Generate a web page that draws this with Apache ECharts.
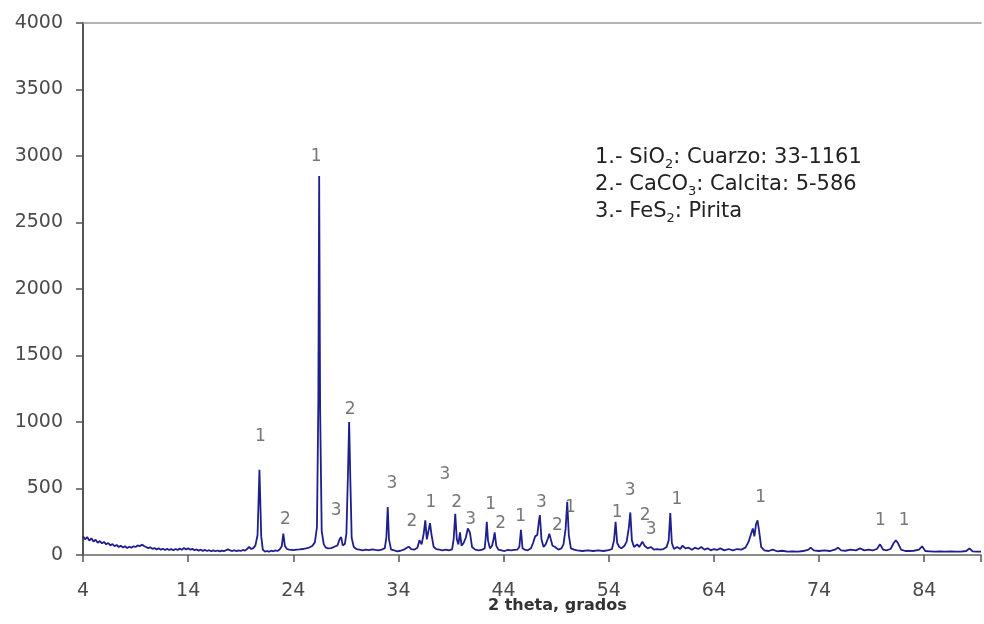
<!DOCTYPE html>
<html>
<head>
<meta charset="utf-8">
<script src="https://cdn.jsdelivr.net/npm/echarts@6/dist/echarts.min.js"></script>
<style>html,body{margin:0;padding:0;background:#fff}#c{width:984px;height:624px}</style>
</head>
<body>
<div id="c"></div>
<script>
const twoTheta = [
4.0,4.2,4.4,4.6,4.8,5.0,5.2,5.4,5.6,5.8,6.0,6.2,6.4,6.6,6.8,7.0,7.2,7.4,7.6,7.8,
8.0,8.2,8.4,8.6,8.8,9.0,9.2,9.4,9.6,9.8,10.0,10.2,10.4,10.6,10.8,11.0,11.2,11.4,11.6,11.8,
12.0,12.2,12.4,12.6,12.8,13.0,13.2,13.4,13.6,13.8,14.0,14.2,14.4,14.6,14.8,15.0,15.2,15.4,15.6,15.8,
16.0,16.2,16.4,16.6,16.8,17.0,17.2,17.4,17.6,17.8,18.0,18.2,18.4,18.6,18.8,19.0,19.2,19.4,19.6,19.8,
20.0,20.2,20.4,20.6,20.78,20.95,21.1,21.3,21.5,21.7,21.9,22.1,22.3,22.5,22.7,22.9,23.05,23.2,23.4,23.6,
23.8,24.0,24.3,24.6,24.9,25.2,25.5,25.8,26.05,26.25,26.38,26.46,26.55,26.7,26.9,27.1,27.3,27.6,27.9,28.2,
28.4,28.55,28.7,28.9,29.05,29.2,29.31,29.42,29.55,29.75,30.0,30.3,30.6,30.9,31.2,31.5,31.8,32.1,32.4,32.7,
32.85,32.98,33.1,33.3,33.6,33.9,34.2,34.5,34.8,35.0,35.2,35.5,35.8,36.0,36.2,36.4,36.55,36.7,36.85,37.0,
37.15,37.35,37.6,37.9,38.2,38.5,38.8,39.1,39.25,39.4,39.55,39.7,39.85,40.0,40.2,40.4,40.6,40.8,41.0,41.3,
41.6,41.9,42.2,42.3,42.4,42.52,42.7,42.9,43.05,43.15,43.3,43.5,43.8,44.1,44.4,44.7,45.0,45.3,45.5,45.65,
45.8,46.0,46.3,46.6,46.8,47.0,47.2,47.35,47.45,47.6,47.8,48.0,48.2,48.35,48.5,48.65,48.9,49.2,49.5,49.7,
49.9,50.05,50.2,50.4,50.7,51.0,51.5,52.0,52.5,53.0,53.5,54.0,54.3,54.5,54.65,54.8,55.0,55.2,55.5,55.7,
55.9,56.05,56.2,56.4,56.7,56.9,57.2,57.4,57.7,58.0,58.3,58.6,58.9,59.2,59.5,59.7,59.85,60.0,60.2,60.5,
60.8,61.0,61.3,61.6,61.9,62.2,62.5,62.8,63.1,63.4,63.7,64.0,64.3,64.6,65.0,65.4,65.8,66.2,66.6,67.0,
67.3,67.5,67.7,67.85,68.0,68.15,68.3,68.5,68.8,69.2,69.6,70.0,70.5,71.0,71.5,72.0,72.5,73.0,73.2,73.5,
74.0,74.5,75.0,75.5,75.8,76.1,76.5,77.0,77.5,77.9,78.3,78.7,79.1,79.5,79.8,80.1,80.4,80.8,81.1,81.3,
81.5,81.8,82.2,82.6,83.0,83.5,83.8,84.1,84.5,85.0,85.5,86.0,86.5,87.0,87.5,88.0,88.3,88.6,89.0,89.4
];
const counts = [
140,118,135,108,125,102,115,92,105,88,98,80,90,72,82,66,75,60,70,56,
66,52,62,55,66,60,72,66,78,68,60,52,58,46,52,42,50,40,47,38,
46,38,44,36,45,38,48,40,52,42,50,40,46,36,42,33,40,31,38,30,
36,28,35,28,34,27,33,29,36,42,34,30,36,28,35,30,38,33,45,60,
45,52,72,150,640,140,40,25,30,26,32,28,35,30,42,65,160,68,45,40,
38,36,40,42,45,50,56,68,95,210,1150,2850,1100,180,80,55,50,52,62,72,
118,135,72,82,160,620,1000,580,130,60,45,40,35,40,36,42,38,35,40,52,
130,360,118,40,34,28,32,40,55,62,45,40,55,110,80,160,260,118,180,240,
150,60,45,40,35,40,35,42,120,310,118,80,170,70,90,130,200,168,60,40,
35,38,50,130,250,108,50,70,120,170,70,40,35,30,38,35,38,40,62,190,
50,40,35,50,90,140,150,250,300,118,60,80,120,160,170,70,60,40,50,82,
200,400,150,50,40,35,30,35,30,34,30,36,45,110,250,90,60,50,70,100,
200,320,110,60,80,60,100,70,50,60,40,45,40,45,60,110,315,90,45,60,
45,70,50,55,40,55,45,60,40,50,35,45,38,50,35,45,35,45,40,55,
100,150,200,140,230,260,180,60,35,30,40,28,32,25,28,25,30,40,55,35,
30,35,30,40,55,35,32,40,35,50,35,40,35,45,80,40,35,45,90,110,
90,40,30,30,32,40,65,30,28,25,28,25,28,26,25,30,50,28,26,25
];

// phase labels placed above the peaks (2-theta, counts, phase number)
const peakLabelX = [20.87,23.24,26.18,28.08,29.40,33.38,35.28,37.08,38.41,39.54,40.87,42.77,43.72,45.61,47.60,49.12,50.35,54.81,56.04,57.46,58.03,60.49,68.45,79.83,82.10];
const peakLabelY = [894,263,2998,331,1097,534,255,391,601,391,263,376,233,286,391,218,353,316,488,293,188,413,428,256,256];
const peakLabelText = ['1','2','1','3','2','3','2','1','3','2','3','1','2','1','3','2','1','1','3','2','3','1','1','1','1'];

const xMin = 4, xMax = 89.4, xStep = 10;
const yMin = 0, yMax = 4000, yStep = 500;
const xTitle = '2 theta, grados';
const legendLines = [
  ['1.- SiO', '2', ': Cuarzo: 33-1161'],
  ['2.- CaCO', '3', ': Calcita: 5-586'],
  ['3.- FeS', '2', ': Pirita']
];

const lineData = twoTheta.map((x, i) => [x, counts[i]]);
const labelData = peakLabelX.map((x, i) => [x, peakLabelY[i], peakLabelText[i]]);
const legendText = legendLines.map(l => '{n|' + l[0] + '}{s|' + l[1] + '}{n|' + l[2] + '}').join('\n');

const font = 'DejaVu Sans';
const chart = echarts.init(document.getElementById('c'), null, {renderer: 'canvas'});
chart.setOption({
  animation: false,
  backgroundColor: '#ffffff',
  grid: {left: 83, right: 0, top: 23, bottom: 69, containLabel: false},
  title: {
    text: legendText,
    left: 595, top: 144, padding: 0,
    textStyle: {
      fontWeight: 'normal',
      rich: {
        n: {fontFamily: font, fontSize: 21, fontWeight: 'normal', lineHeight: 27, color: '#222'},
        s: {fontFamily: font, fontSize: 13, fontWeight: 'normal', lineHeight: 22, color: '#222', verticalAlign: 'bottom'}
      }
    }
  },
  graphic: [{
    type: 'text', left: 488, top: 598,
    style: {text: xTitle, font: 'bold 16px "DejaVu Sans"', fill: '#333'}
  }],
  xAxis: [{
    type: 'value', min: xMin, max: xMax, interval: xStep,
    axisLine: {show: true, onZero: false, lineStyle: {color: '#666', width: 1.5}},
    axisTick: {show: true, inside: false, length: 7, lineStyle: {color: '#555', width: 1.5}},
    axisLabel: {
      margin: 27, fontFamily: font, fontSize: 19, color: '#4a4a4a',
      formatter: v => ((v - xMin) % xStep === 0 ? String(v) : '')
    },
    splitLine: {show: false}
  }, {
    type: 'value', position: 'top', min: xMin, max: xMax, interval: xStep,
    axisLine: {show: true, onZero: false, lineStyle: {color: '#999', width: 1.5}},
    axisTick: {show: false}, axisLabel: {show: false}, splitLine: {show: false}
  }],
  yAxis: {
    type: 'value', min: yMin, max: yMax, interval: yStep,
    axisLine: {show: true, lineStyle: {color: '#555', width: 2}},
    axisTick: {show: true, inside: false, length: 7, lineStyle: {color: '#555', width: 1.5}},
    axisLabel: {margin: 20, fontFamily: font, fontSize: 19, color: '#4a4a4a', formatter: v => String(v)},
    splitLine: {show: false}
  },
  series: [{
    type: 'line', data: lineData, showSymbol: false, symbol: 'none',
    lineStyle: {color: '#1e1e8c', width: 1.8}, z: 3
  }, {
    type: 'scatter', data: labelData, symbolSize: 0, silent: true,
    label: {
      show: true, position: 'inside', formatter: p => p.value[2],
      fontFamily: font, fontSize: 17, color: '#555'
    }, z: 4
  }]
});
</script>
</body>
</html>
